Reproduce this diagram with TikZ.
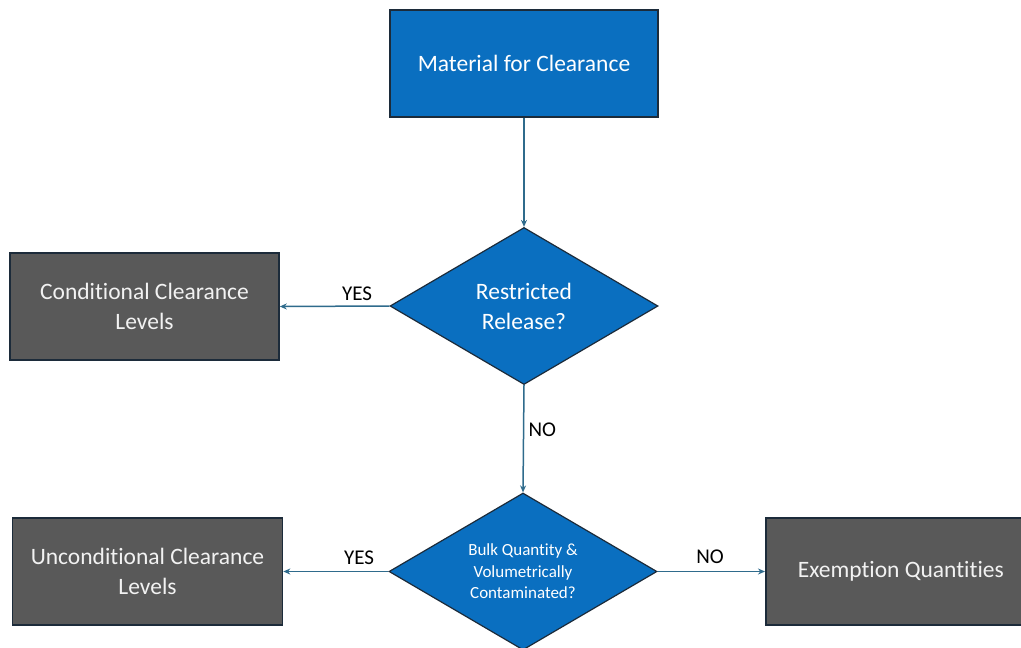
\documentclass[tikz,border=0pt]{standalone}
\usepackage{fontspec}
\setmainfont[Ligatures=NoCommon]{Carlito}
\usetikzlibrary{shapes.geometric,arrows.meta}
\definecolor{procblue}{HTML}{0A6FC0}
\definecolor{termgray}{HTML}{595959}
\definecolor{edgedark}{HTML}{1C2B3A}
\definecolor{linkteal}{HTML}{2F6B8C}
\tikzset{
  boxfont/.style={font=\fontsize{23.5}{30}\selectfont},
  proc/.style={draw=edgedark, line width=1.6pt, fill=procblue, text=white,
    minimum width=268pt, minimum height=107pt, inner sep=0pt, boxfont, align=center},
  term/.style={draw=edgedark, line width=1.6pt, fill=termgray, text=white!95!black,
    minimum width=269pt, minimum height=107pt, inner sep=0pt, boxfont, align=center},
  decide/.style={diamond, aspect=1.7, draw=edgedark, line width=1.2pt, fill=procblue,
    text=white, minimum width=268pt, minimum height=157pt, inner sep=0pt, align=center},
  link/.style={draw=linkteal, line width=1.5pt, -{Stealth[length=7pt,width=6pt]}},
  lbl/.style={font=\fontsize{21}{24}\selectfont, text=black}
}
\begin{document}
\begin{tikzpicture}[x=1pt,y=-1pt]
  \useasboundingbox (0,0) rectangle (1021,648);
  \clip (0,0) rectangle (1021,648);
  \fill[white] (0,0) rectangle (1021,648);

  \node[proc] (start) at (524,63.5) {Material for Clearance};
  \node[decide, boxfont] (restr) at (524,306) {Restricted\\Release?};
  \node[term] (cond) at (144.5,306.5) {Conditional Clearance\\Levels};
  \node[decide, font=\fontsize{17}{21.5}\selectfont] (bulk) at (523,571.5)
    {Bulk Quantity \&\\Volumetrically\\Contaminated?};
  \node[term, minimum width=270pt] (uncond) at (147.5,571.5) {Unconditional Clearance\\Levels};
  \node[term, minimum width=270pt, anchor=west] (exempt) at (765,571.5) {Exemption Quantities};

  \draw[link] (start) -- (restr);
  \draw[link] (restr.west) -- (cond.east);
  \draw[link] (restr.south) -- node[lbl, right=1pt, pos=0.42] {NO} (bulk.north);
  \draw[link] (bulk.west) -- (uncond.east);
  \draw[link] (bulk.east) -- (exempt.west);

  \node[lbl] (yes1) at (357,294) {YES};
  \node[lbl] (yes2) at (359,558) {YES};
  \node[lbl] (no2) at (710,557) {NO};
\end{tikzpicture}
\end{document}
